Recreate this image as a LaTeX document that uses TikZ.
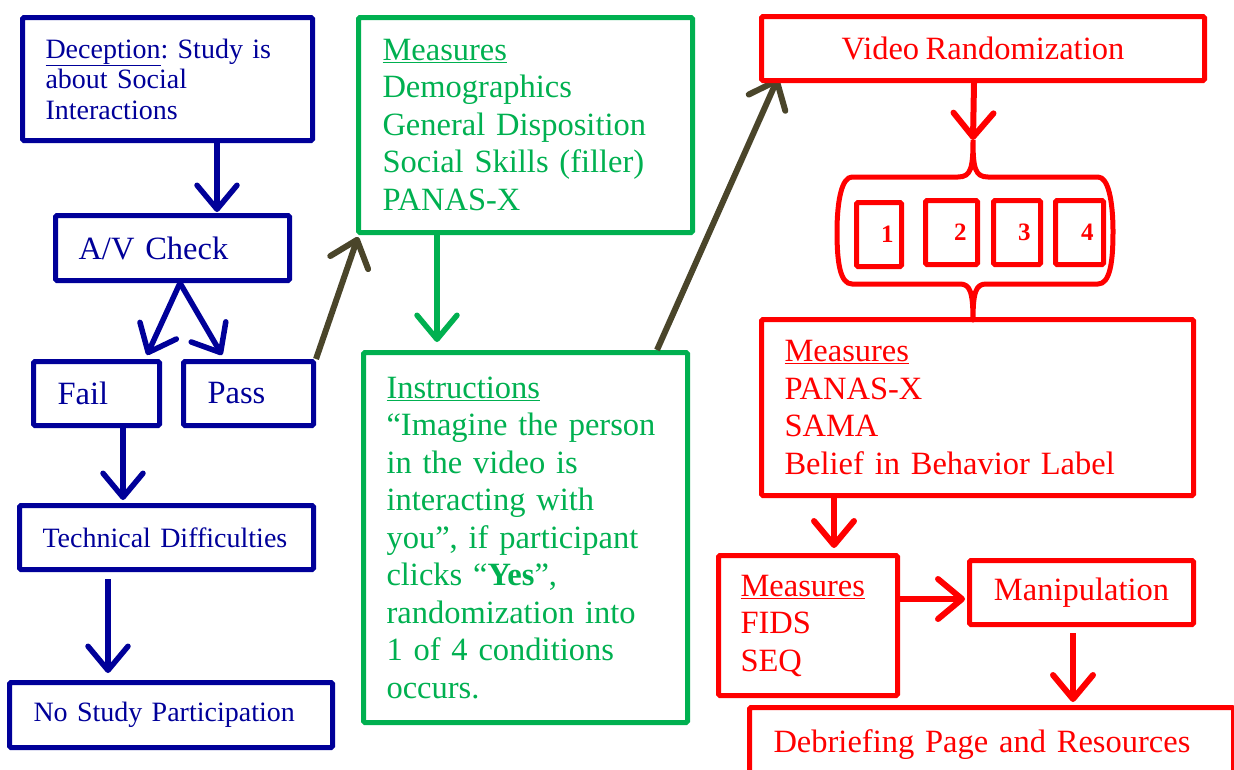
\documentclass[tikz,border=0pt]{standalone}
\usepackage{fontspec}
\setmainfont{Liberation Serif}[WordSpace=0.8]
\usetikzlibrary{arrows.meta,calc}
\definecolor{cblue}{HTML}{000099}
\definecolor{cgreen}{HTML}{00B050}
\definecolor{cred}{HTML}{FF0000}
\definecolor{colive}{HTML}{4A452A}
\newcommand{\bigtxt}{\fontsize{32.5}{37.5}\selectfont\frenchspacing}
\newcommand{\smalltxt}{\fontsize{28}{30.5}\selectfont\frenchspacing}
\begin{document}
\begin{tikzpicture}[x=1pt,y=-1pt,
  box/.style={draw, line width=5pt, rounded corners=1.5pt, anchor=north west,
    inner ysep=0pt, align=left},
  bluebox/.style={box, draw=cblue, text=cblue},
  greenbox/.style={box, draw=cgreen, text=cgreen},
  redbox/.style={box, draw=cred, text=cred},
  barb/.style={-{Straight Barb[length=24pt,width=40pt,round]}, line width=5.5pt},
  bluearrow/.style={barb, draw=cblue},
  greenarrow/.style={barb, draw=cgreen},
  redarrow/.style={barb, draw=cred, line width=6pt},
  olivearrow/.style={barb, draw=colive, line width=6pt},
  numbox/.style={redbox, minimum height=64pt, inner xsep=8pt, align=right,
    font=\fontsize{25}{28}\selectfont\bfseries}
]
\useasboundingbox (0,0) rectangle (1234,769);

% ---------- blue column ----------
\node[bluebox, minimum width=290pt, minimum height=123pt, inner xsep=23pt,
  text width=244pt, font=\smalltxt] (dec) at (20,15)
  {\underline{Deception}: Study is\\about Social\\Interactions};
\node[bluebox, minimum width=234pt, minimum height=65pt, inner xsep=23pt,
  text width=188pt, font=\bigtxt] (av) at (53,213) {A/V Check};
\node[bluebox, minimum width=126pt, minimum height=64pt, inner xsep=24pt,
  text width=78pt, font=\bigtxt] (fail) at (31,359) {Fail};
\node[bluebox, minimum width=130pt, minimum height=64pt, inner xsep=24pt,
  text width=82pt, font=\bigtxt] (pass) at (181,359) {Pass};
\node[bluebox, minimum width=294pt, minimum height=64pt, inner xsep=23pt,
  text width=248pt, font=\smalltxt] (tech) at (17,503) {Technical Difficulties};
\node[bluebox, minimum width=323pt, minimum height=65pt, inner xsep=24pt,
  text width=275pt, font=\smalltxt] (nost) at (7,680) {No Study Participation};

\draw[bluearrow] ($(dec.south west)+(197,0)$) -- ($(av.north west)+(164,-1)$);
\coordinate (fork) at ($(av.south west)+(127,0)$);
\draw[bluearrow] (fork) -- ($(fail.north east)+(-15,-4)$);
\draw[bluearrow] (fork) -- ($(pass.north west)+(41,-4)$);
\draw[bluearrow] ($(fail.south west)+(92,0)$) -- ($(tech.north west)+(106,-3)$);
\draw[bluearrow] ($(tech.south west)+(91,7)$) -- ($(nost.north west)+(101,-7)$);

% ---------- green column ----------
\node[greenbox, minimum width=334pt, minimum height=215pt, inner xsep=24pt,
  text width=286pt, font=\bigtxt] (meas1) at (356,15)
  {\underline{Measures}\\Demographics\\General Disposition\\Social Skills (filler)\\PANAS-X};
\node[greenbox, minimum width=324pt, minimum height=370pt, inner xsep=23pt,
  text width=278pt, font=\bigtxt] (instr) at (361,350)
  {\underline{Instructions}\\``Imagine the person\\in the video is\\interacting with\\you'', if participant\\clicks ``\textbf{Yes}'',\\randomization into\\1 of 4 conditions\\occurs.};

\draw[olivearrow] (pass.north east) -- ($(meas1.south west)+(2,2)$);
\draw[greenarrow] ($(meas1.south west)+(81,0)$) -- ($(instr.north west)+(76,-8)$);
\draw[olivearrow] ($(instr.north west)+(296,0)$) -- ($(instr.north west)+(417,-272)$);

% ---------- red column ----------
\node[redbox, minimum width=443pt, minimum height=64pt, align=center,
  font=\bigtxt] (vid) at (759,14) {Video Randomization};

\node[numbox, minimum width=45pt, text width=29pt] (n1) at (854,200) {1};
\node[numbox, minimum width=52pt, text width=30pt] (n2) at (923,198) {2};
\node[numbox, minimum width=47pt, text width=27pt] (n3) at (991,198) {3};
\node[numbox, minimum width=48pt, text width=28pt] (n4) at (1053,198) {4};

\coordinate (bracetop) at (973,140);
\coordinate (bracebot) at (973,320);
\draw[redarrow] ($(vid.south west)+(215,0)$) -- (bracetop);
\draw[cred, line width=5pt, line join=round]
  (bracetop) .. controls (973,168) and (971,177) .. (958,177)
  -- (852,177) .. controls (842,177) and (837,200) .. (837,232)
  .. controls (837,262) and (840,284) .. (852,284)
  -- (960,284) .. controls (970,284) and (973,292) .. (bracebot)
  .. controls (973,292) and (976,284) .. (986,284)
  -- (1098,284) .. controls (1110,284) and (1113,262) .. (1113,232)
  .. controls (1113,200) and (1108,177) .. (1098,177)
  -- (988,177) .. controls (975,177) and (973,168) .. (bracetop);

\node[redbox, minimum width=432pt, minimum height=176pt, inner xsep=23pt,
  text width=386pt, font=\bigtxt] (meas2) at (759,317)
  {\underline{Measures}\\PANAS-X\\SAMA\\Belief in Behavior Label};
\node[redbox, minimum width=179pt, minimum height=140pt, inner xsep=22pt,
  text width=135pt, font=\bigtxt] (fids) at (716,553)
  {\underline{Measures}\\FIDS\\SEQ};
\node[redbox, minimum width=224pt, minimum height=64pt, align=center,
  font=\bigtxt] (manip) at (967,558) {Manipulation};
\node[redbox, minimum width=484pt, minimum height=74pt, inner xsep=24pt,
  text width=436pt, font=\bigtxt] (deb) at (747,705) {Debriefing Page and Resources};

\draw[redarrow] ($(meas2.south west)+(75,0)$) -- ($(fids.north west)+(118,-5)$);
\draw[redarrow] ($(fids.north east)+(0,46)$) -- ($(manip.north west)+(-2,41)$);
\draw[redarrow] ($(manip.south west)+(106,6)$) -- ($(deb.north west)+(326,-3)$);
\end{tikzpicture}
\end{document}
